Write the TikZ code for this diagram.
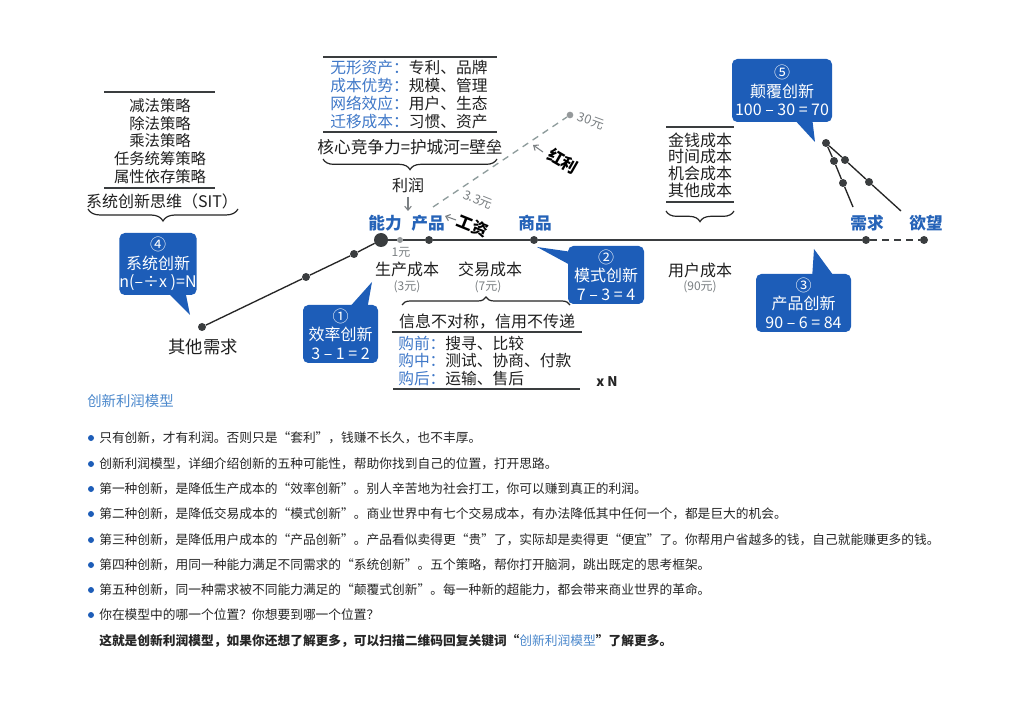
\documentclass[tikz,border=0pt]{standalone}
\usepackage{fontspec}
\setmainfont{Noto Sans CJK SC}
\usetikzlibrary{decorations.pathreplacing,arrows.meta}
\definecolor{cblue}{HTML}{1D5DB8}
\definecolor{tblue}{HTML}{2563B8}
\definecolor{lblue}{HTML}{3F78C8}
\definecolor{ttblue}{HTML}{4B88CC}
\definecolor{dgrey}{HTML}{3A3D3F}
\definecolor{mgrey}{HTML}{7A7F82}
\definecolor{dashgrey}{HTML}{8E9C9C}
\tikzset{
 every node/.style={inner sep=0pt},
 t12/.style={font=\fontsize{12}{14}\selectfont, text=black!88},
 blab/.style={font=\fontsize{12.5}{14}\selectfont\bfseries, text=tblue},
 gsmall/.style={font=\fontsize{9}{10}\selectfont, text=mgrey},
 cbox/.style={fill=cblue, rounded corners=4pt, text=white, align=center, font=\fontsize{12}{13.8}\selectfont},
 ctail/.style={fill=cblue},
 pdot/.style={circle, fill=dgrey, minimum size=6pt},
 bigdot/.style={circle, fill=dgrey, minimum size=10.5pt},
 gdot/.style={circle, fill=mgrey!80, minimum size=4.5pt},
 mainline/.style={draw=dgrey, line width=1.6pt},
 thinline/.style={draw=black!85, line width=1pt},
 hrule/.style={draw=dgrey, line width=1.1pt},
 mybrace/.style={decorate, decoration={brace, amplitude=#1}, line width=0.9pt, draw=black!85},
 garrow/.style={draw=mgrey, -{Straight Barb[length=3pt,width=5pt]}, line width=0.8pt},
 bdot/.style={circle, fill=cblue, minimum size=4.5pt},
 btext/.style={anchor=west, font=\fontsize{9.55}{11}\selectfont, text=black!85},
 boxtxt/.style={font=\fontsize{11.5}{13.5}\selectfont, text=black!88},
}
\begin{document}
\begin{tikzpicture}[x=0.75pt,y=-0.75pt]
\useasboundingbox (0,0) rectangle (1024,716);
\fill[white] (0,0) rectangle (1024,716);

% ---------- main axis ----------
\node[bigdot] (cap) at (381,240) {};
\node[gdot] (one) at (400,240) {};
\node[pdot] (prod) at (429,240) {};
\node[pdot] (goods) at (534,240) {};
\node[pdot] (need) at (866,240) {};
\node[pdot] (want) at (924,240) {};
\draw[mainline] (cap) -- (one) -- (prod) -- (goods) -- (need);
\draw[mainline, dashed, dash pattern=on 5pt off 4pt] (need) -- (want);

% diagonal to other needs
\node[pdot] (other) at (202,327) {};
\node[pdot] (d1) at (306,277) {};
\node[pdot] (d2) at (354,254) {};
\draw[thinline] (other) -- (d1) -- (d2) -- (cap);

% cone near need/desire
\node[pdot] (apex) at (826,143) {};
\node[pdot] (c1) at (834,161) {};
\node[pdot] (c2) at (843,183) {};
\node[pdot] (c3) at (845,160) {};
\node[pdot] (c4) at (869,182) {};
\coordinate (cend1) at (853,207);
\coordinate (cend2) at (901,211);
\draw[thinline] (apex) -- (c1) -- (c2) -- (cend1);
\draw[thinline] (apex) -- (c3) -- (c4) -- (cend2);

% dashed profit line
\node[circle, fill=mgrey!80, minimum size=5pt] (thirty) at (570,115) {};
\coordinate (dstart) at (433,207);
\draw[draw=dashgrey, line width=1pt, dash pattern=on 5pt off 4pt] (dstart) -- (thirty);

% ---------- axis labels ----------
\node[blab] (nengli) at (385,223) {能力};
\node[blab] (chanpin) at (428,223) {产品};
\node[blab] (shangpin) at (535,223) {商品};
\node[blab] (xuqiu) at (867,223) {需求};
\node[blab] (yuwang) at (926,223) {欲望};

\node[t12] (lirun) at (408,185) {利润};
\coordinate (lirunend) at (408,211);
\draw[garrow, shorten <=3pt] (lirun) -- (lirunend);

\node[gsmall] (yiyuan) at (401,252) {1元};
\node[t12] (sccb) at (407,269) {生产成本};
\node[gsmall] (sanyuan) at (407,287) {(3元)};
\node[t12] (jycb) at (490,269) {交易成本};
\node[gsmall] (qiyuan) at (488,287) {(7元)};
\node[t12] (yhcb) at (700,270) {用户成本};
\node[gsmall] (jiushi) at (700,287) {(90元)};
\node[t12, font=\fontsize{13}{15}\selectfont] (qita) at (203,347) {其他需求};

\node[font=\fontsize{12}{14}\selectfont\bfseries, rotate=-22] (gongzi) at (473,226) {工资};
\coordinate (gzs) at (456,220);
\coordinate (gze) at (445,216);
\draw[garrow] (gzs) -- (gze);
\node[gsmall, font=\fontsize{9.5}{10}\selectfont, rotate=-22] (sansan) at (478,200) {3.3元};

\node[font=\fontsize{12}{14}\selectfont\bfseries, rotate=-30] (hongli) at (563,161) {红利};
\coordinate (hls) at (543,152);
\coordinate (hle) at (533,145);
\draw[garrow] (hls) -- (hle);
\node[gsmall, font=\fontsize{9.5}{10}\selectfont, rotate=-20] (sanshi) at (591,121) {30元};

\node[font=\fontsize{10}{12}\selectfont\bfseries, text=black!85] (xn) at (607,382) {x N};

% ---------- top-left box ----------
\draw[hrule] (104,92) -- (215,92);
\node[boxtxt, align=center, font=\fontsize{11.5}{13.3}\selectfont] (sit) at (160,141) {减法策略\\除法策略\\乘法策略\\任务统筹策略\\属性依存策略};
\draw[hrule] (104,188) -- (215,188);
\node[t12] (sitt) at (162,201) {系统创新思维（SIT）};
\draw[mybrace=9pt, decoration={mirror}] (88,209) -- (238,209);

% ---------- top-middle box ----------
\draw[hrule] (323,57) -- (497,57);
\node[boxtxt, align=left, anchor=west, font=\fontsize{11.8}{13.5}\selectfont] (moat) at (330,95)
 {\textcolor{lblue}{无形资产：}专利、品牌\\\textcolor{lblue}{成本优势：}规模、管理\\\textcolor{lblue}{网络效应：}用户、生态\\\textcolor{lblue}{迁移成本：}习惯、资产};
\draw[hrule] (323,132) -- (497,132);
\node[t12, font=\fontsize{12.5}{14}\selectfont] (core) at (410,147) {核心竞争力=护城河=壁垒};
\draw[mybrace=8pt, decoration={mirror}] (323,159) -- (497,159);

% ---------- right cost box ----------
\draw[hrule] (666,127) -- (734,127);
\node[boxtxt, align=center, font=\fontsize{12}{12.5}\selectfont] (costs) at (700,165) {金钱成本\\时间成本\\机会成本\\其他成本};
\draw[hrule] (666,202) -- (734,202);
\draw[mybrace=8pt, decoration={mirror}] (666,211) -- (734,211);

% ---------- transaction box ----------
\draw[mybrace=6pt] (402,305) -- (570,305);
\node[t12] (xinxi) at (487,322) {信息不对称，信用不传递};
\draw[hrule] (392,332) -- (582,332);
\node[boxtxt, align=left, anchor=west, font=\fontsize{11.8}{13.3}\selectfont] (gou) at (398,361)
 {\textcolor{lblue}{购前：}搜寻、比较\\\textcolor{lblue}{购中：}测试、协商、付款\\\textcolor{lblue}{购后：}运输、售后};
\draw[hrule] (393,389) -- (580,389);

% ---------- callouts ----------
\fill[ctail] (165,290) -- (190,315) -- (185,290) -- cycle;
\node[cbox, minimum width=57pt, minimum height=46.5pt] (c4box) at (158,264) {④\\系统创新\\n(–÷x )=N};

\fill[ctail] (347,310) -- (372,282) -- (367,310) -- cycle;
\node[cbox, minimum width=56.25pt, minimum height=43.5pt] (c1box) at (340.5,334) {①\\效率创新\\3 – 1 = 2};

\fill[ctail] (572,252) -- (537,247) -- (572,266) -- cycle;
\node[cbox, minimum width=57pt, minimum height=43.5pt] (c2box) at (606,275) {②\\模式创新\\7 – 3 = 4};

\fill[ctail] (812,279) -- (814,249) -- (836,279) -- cycle;
\node[cbox, minimum width=71.25pt, minimum height=43.5pt] (c3box) at (803.5,303) {③\\产品创新\\90 – 6 = 84};

\fill[ctail] (792,117) -- (815,142) -- (812,117) -- cycle;
\node[cbox, minimum width=75pt, minimum height=47.25pt] (c5box) at (782,90.5) {⑤\\颠覆创新\\100 – 30 = 70};

% ---------- text section ----------
\node[anchor=west, font=\fontsize{10.8}{12}\selectfont, text=ttblue] (title) at (87,401) {创新利润模型};

\node[bdot] (b1) at (91,438) {};
\node[btext] (t1) at (99,438) {只有创新，才有利润。否则只是“套利”，钱赚不长久，也不丰厚。};
\node[bdot] (b2) at (91,464) {};
\node[btext] (t2) at (99,464) {创新利润模型，详细介绍创新的五种可能性，帮助你找到自己的位置，打开思路。};
\node[bdot] (b3) at (91,489) {};
\node[btext] (t3) at (99,489) {第一种创新，是降低生产成本的“效率创新”。别人辛苦地为社会打工，你可以赚到真正的利润。};
\node[bdot] (b4) at (91,514) {};
\node[btext] (t4) at (99,514) {第二种创新，是降低交易成本的“模式创新”。商业世界中有七个交易成本，有办法降低其中任何一个，都是巨大的机会。};
\node[bdot] (b5) at (91,540) {};
\node[btext] (t5) at (99,540) {第三种创新，是降低用户成本的“产品创新”。产品看似卖得更“贵”了，实际却是卖得更“便宜”了。你帮用户省越多的钱，自己就能赚更多的钱。};
\node[bdot] (b6) at (91,565) {};
\node[btext] (t6) at (99,565) {第四种创新，用同一种能力满足不同需求的“系统创新”。五个策略，帮你打开脑洞，跳出既定的思考框架。};
\node[bdot] (b7) at (91,590) {};
\node[btext] (t7) at (99,590) {第五种创新，同一种需求被不同能力满足的“颠覆式创新”。每一种新的超能力，都会带来商业世界的革命。};
\node[bdot] (b8) at (91,615) {};
\node[btext] (t8) at (99,615) {你在模型中的哪一个位置？你想要到哪一个位置？};
\node[btext, font=\fontsize{9.55}{11}\selectfont\bfseries] (t9) at (99,641) {这就是创新利润模型，如果你还想了解更多，可以扫描二维码回复关键词“\textcolor{ttblue}{\mdseries 创新利润模型}”了解更多。};
\end{tikzpicture}
\end{document}
